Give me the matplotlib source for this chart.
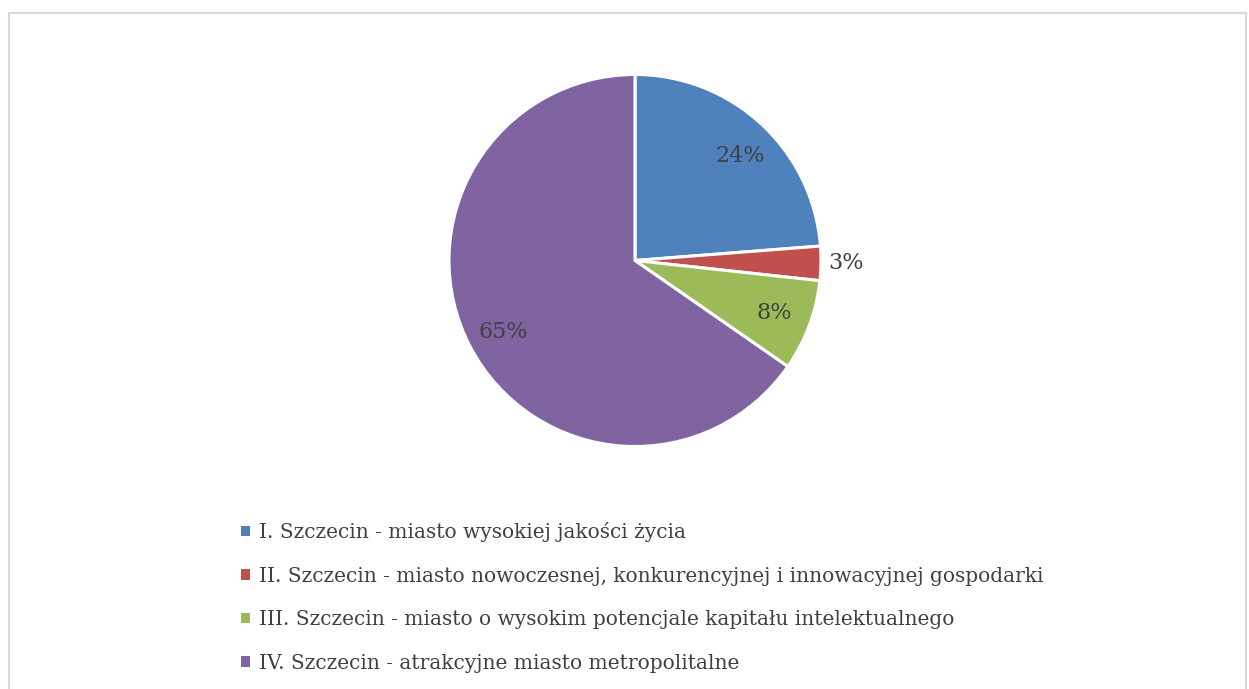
import matplotlib.pyplot as plt
from matplotlib.patches import Patch, Rectangle

labels = [
    "I. Szczecin - miasto wysokiej jakości życia",
    "II. Szczecin - miasto nowoczesnej, konkurencyjnej i innowacyjnej gospodarki",
    "III. Szczecin - miasto o wysokim potencjale kapitału intelektualnego",
    "IV. Szczecin - atrakcyjne miasto metropolitalne",
]
counts = [24, 3, 8, 66]
colors = ["#4F81BD", "#C0504D", "#9BBB59", "#8064A2"]

W, H = 1249, 689
plt.rcParams['font.family'] = ['DejaVu Serif']

fig = plt.figure(figsize=(W / 100, H / 100), dpi=100)
ax = fig.add_axes([0, 0, 1, 1])

# chart frame
ax.add_patch(Rectangle((9.5, -20), 1237, H - 12.5 + 20, fill=False,
                       edgecolor="#D9D9D9", linewidth=1.5))

wedges, texts, autotexts = ax.pie(
    counts, colors=colors, startangle=90, counterclock=False,
    center=(635, H - 260.5), radius=186, frame=True,
    autopct=lambda p: f"{p:.0f}%", pctdistance=0.8,
    wedgeprops=dict(edgecolor='white', linewidth=2.2),
    textprops=dict(color='#404040', fontsize=16))
ax.set_xlim(0, W)
ax.set_ylim(0, H)
ax.set_aspect('equal')
ax.axis('off')

# small slice label sits outside
autotexts[1].set_position((846, H - 263))
autotexts[0].set_position((740, H - 156))
autotexts[3].set_position((503, H - 332))

handles = [Patch(facecolor=c, edgecolor='none') for c in colors]
fig.legend(handles, labels, loc='upper left', bbox_to_anchor=(233 / W, 1 - 514 / H),
           frameon=False, fontsize=14.5, labelcolor='#404040',
           handlelength=0.42, handleheight=0.42, handletextpad=0.45,
           labelspacing=1.22, borderaxespad=0)

fig.savefig("out.png", dpi=100)
